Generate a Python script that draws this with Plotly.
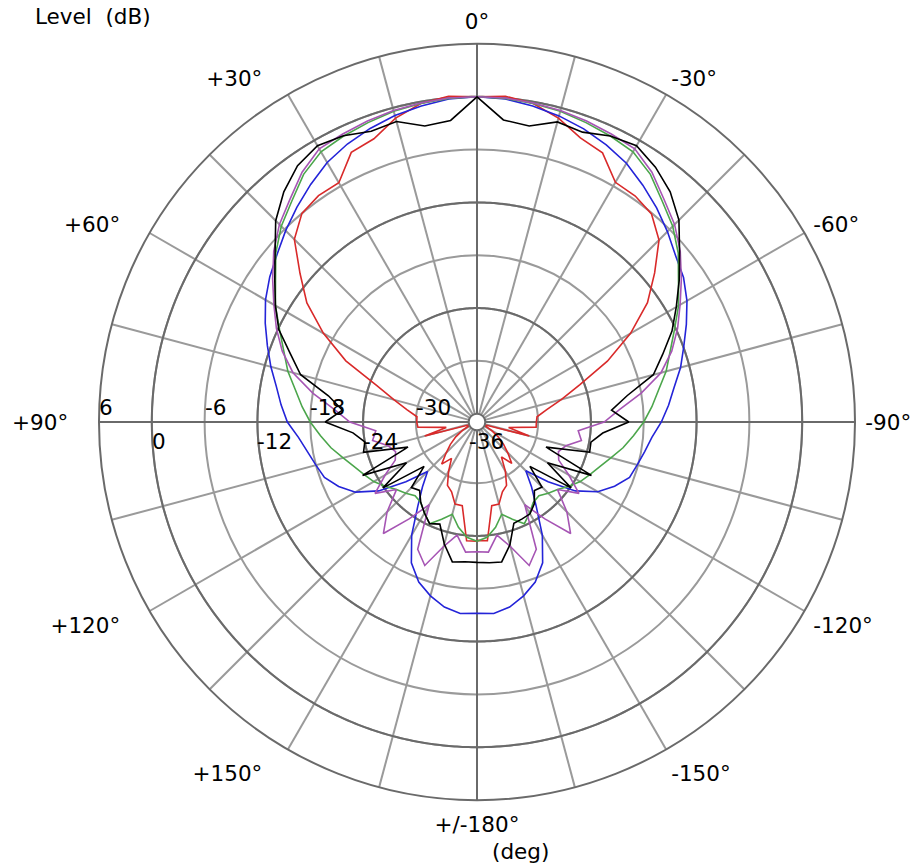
import numpy as np
import plotly.graph_objects as go

# angle magnitudes 0..180 deg in 5 deg steps
ANG = list(range(0, 185, 5))

# right half (negative angles, -0 .. -180)
black_R = [0, -2.5, -2.8, -1.65, -1.9, -1.1, -0.7, -1.6, -2.8, -4.5, -6.9, -8.9, -10.8, -12.5, -14.5, -16.2,
           -19.6, -21.6, -19.7, -22.6, -23.8, -23.7, -28.6, -22.6, -27.7, -23.9, -29.1, -26.5, -26.8, -25.6,
           -24.9, -24.8, -24.7, -22.5, -20.8, -20.9, -21.0]
black_L = [0, -2.55, -2.8, -1.6, -1.8, -1.05, -0.7, -1.4, -2.8, -4.6, -7.0, -8.9, -10.5, -12.1, -14.4, -16.2,
           -19.8, -21.6, -19.7, -22.8, -24.0, -23.6, -28.6, -22.6, -27.7, -23.9, -29.1, -26.4, -26.8, -25.8,
           -25.0, -24.2, -24.6, -22.6, -20.8, -21.0, -21.0]

blue_R = [0, -0.1, -0.5, -0.94, -1.5, -2.2, -3.0, -4.1, -5.2, -6.35, -7.5, -8.3, -9.4, -10.7, -11.95, -13.0,
          -14.2, -15.1, -16.0, -17.0, -17.6, -18.1, -18.5, -19.7, -21.1, -23.3, -26.4, -29.1, -27.3, -25.2,
          -22.1, -19.3, -17.6, -16.5, -15.6, -15.1, -15.2]
blue_L = [0, -0.1, -0.5, -0.9, -1.45, -2.1, -2.9, -4.0, -5.1, -6.2, -7.3, -8.2, -9.2, -10.4, -11.6, -12.7,
          -13.8, -14.6, -15.4, -16.6, -17.4, -18.0, -18.5, -19.6, -21.0, -23.3, -26.4, -29.0, -27.3, -25.2,
          -22.1, -19.3, -17.6, -16.5, -15.6, -15.1, -15.2]

green_R = [0, -0.05, -0.2, -0.4, -0.75, -1.1, -1.5, -2.6, -4.2, -5.5, -7.1, -9.0, -10.5, -12.2, -13.6, -14.7,
           -16.0, -17.0, -18.0, -19.1, -20.1, -21.2, -22.1, -22.8, -23.4, -24.2, -25.0, -25.5, -26.0, -25.8,
           -25.0, -24.2, -25.2, -26.1, -24.8, -23.8, -23.4]
green_L = [0, -0.05, -0.2, -0.4, -0.75, -1.1, -1.5, -2.6, -4.2, -5.5, -7.1, -9.0, -10.5, -12.2, -13.6, -14.7,
           -16.0, -17.0, -18.0, -19.1, -20.1, -21.2, -22.1, -22.8, -23.4, -24.2, -25.0, -25.5, -26.0, -25.8,
           -25.0, -24.2, -25.2, -26.1, -24.8, -23.8, -23.4]

purple_R = [0, 0, -0.15, -0.3, -0.55, -0.85, -1.1, -2.3, -3.9, -5.2, -6.8, -8.6, -10.3, -11.8, -13.4, -15.3,
            -18.0, -20.7, -22.5, -25.4, -24.9, -26.5, -27.1, -26.7, -24.9, -22.8, -25.0, -22.5, -20.4, -23.5,
            -26.1, -21.0, -19.6, -22.3, -23.9, -22.1, -22.2]
purple_L = [0, 0, -0.15, -0.3, -0.55, -0.85, -1.1, -2.3, -3.9, -5.2, -6.8, -8.6, -10.3, -11.8, -13.4, -15.3,
            -18.0, -20.7, -22.5, -25.4, -24.9, -26.5, -27.1, -26.7, -24.9, -22.8, -25.0, -22.5, -20.4, -23.5,
            -26.1, -21.0, -19.6, -22.3, -23.9, -22.1, -22.2]

red_R = [0, 0.2, -0.2, -1.2, -2.6, -3.2, -5.5, -5.6, -6.1, -7.7, -10.6, -13.3, -16.8, -20.6, -24.5, -27.0,
         -28.9, -30.1, -30.2, -30.2, -33.3, -30.8, -36.0, -36.0, -35.0, -34.0, -33.0, -32.0, -30.8, -32.1,
         -30.5, -29.0, -28.5, -27.3, -27.3, -23.4, -23.5]
red_L = [0, 0.2, -0.2, -1.2, -2.7, -3.15, -5.55, -5.55, -6.0, -7.6, -10.7, -13.35, -16.8, -20.5, -24.8, -27.2,
         -28.85, -30.1, -30.1, -30.2, -33.4, -30.8, -36.0, -36.0, -35.0, -34.0, -33.0, -32.0, -30.7, -31.9,
         -30.5, -29.0, -28.5, -27.3, -27.3, -23.4, -23.4]

SERIES = [
    ("red", red_R, red_L, "#d92a2a"),
    ("blue", blue_R, blue_L, "#2424d8"),
    ("green", green_R, green_L, "#4ca64c"),
    ("purple", purple_R, purple_L, "#a655b4"),
    ("black", black_R, black_L, "#000000"),
]

RADIAL_TICKS = [6, 0, -6, -12, -18, -24, -30, -36]
RADIAL_TEXT = ["6", "0", "-6", "-12", "-18", "-24", "-30", "-36"]
DARK_RINGS = [0, -12, -24]
ANG_TICKVALS = list(range(0, 360, 15))
PAD = "\u00a0\u00a0\u00a0"
ANG_LABELS = {0: "0°", 30: "+30°" + PAD, 60: "+60°" + PAD, 90: "+90°" + PAD, 120: "+120°" + PAD,
              150: "+150°" + PAD, 180: "+/-180°", 210: "-150°", 240: "-120°", 270: "-90°",
              300: "-60°", 330: "-30°"}

R_MIN, R_MAX = -36, 6
HOLE = 0.022
FONT = "DejaVu Sans"
FS = 21.5

fig = go.Figure()

# darker rings and main axes
ring_theta = np.linspace(0, 360, 721)
for rv in DARK_RINGS:
    fig.add_trace(go.Scatterpolar(r=[rv] * len(ring_theta), theta=ring_theta, mode="lines",
                                  line=dict(color="#6a6a6a", width=2), hoverinfo="skip"))
for a in [0, 90, 180, 270]:
    fig.add_trace(go.Scatterpolar(r=[R_MIN, R_MAX], theta=[a, a], mode="lines",
                                  line=dict(color="#6a6a6a", width=2), hoverinfo="skip"))

# data
for name, rr, ll, col in SERIES:
    theta = [-a for a in ANG[::-1]] + ANG[1:]
    r = rr[::-1] + ll[1:]
    fig.add_trace(go.Scatterpolar(r=r, theta=theta, mode="lines", name=name,
                                  line=dict(color=col, width=1.6)))

# radial tick labels along the +90 deg spoke (left), alternating above / below
annotations = []
for i, (v, txt) in enumerate(zip(RADIAL_TICKS, RADIAL_TEXT)):
    frac = HOLE + (1 - HOLE) * (v - R_MIN) / (R_MAX - R_MIN)
    above = i % 2 == 0
    annotations.append(dict(
        text=txt, xref="paper", yref="paper", x=0.5 - 0.5 * frac, y=0.5,
        xanchor="left", yanchor="bottom" if above else "top",
        yshift=0 if above else -5, xshift=-2, showarrow=False,
        font=dict(family=FONT, size=FS, color="black")))

annotations += [
    dict(text="Level  (dB)", xref="paper", yref="paper", x=-0.087, y=1.036,
         xanchor="left", yanchor="middle", showarrow=False,
         font=dict(family=FONT, size=FS, color="black")),
    dict(text="(deg)", xref="paper", yref="paper", x=0.557, y=-0.068,
         xanchor="center", yanchor="middle", showarrow=False,
         font=dict(family=FONT, size=FS, color="black")),
]

fig.update_layout(
    width=919, height=866,
    margin=dict(l=91, r=72, t=36, b=74),
    paper_bgcolor="white", plot_bgcolor="white",
    showlegend=False,
    font=dict(family=FONT, size=FS, color="black"),
    polar=dict(
        bgcolor="white",
        hole=HOLE,
        radialaxis=dict(range=[R_MIN, R_MAX], tickvals=RADIAL_TICKS, showticklabels=False,
                        ticks="", showline=False, gridcolor="#9a9a9a", gridwidth=1.5),
        angularaxis=dict(rotation=90, direction="counterclockwise", tickmode="array",
                         tickvals=ANG_TICKVALS,
                         ticktext=[ANG_LABELS.get(v, "") for v in ANG_TICKVALS],
                         ticks="outside", ticklen=5, tickcolor="rgba(0,0,0,0)",
                         showline=True, linecolor="#6a6a6a", linewidth=2,
                         gridcolor="#9a9a9a", gridwidth=1.5,
                         tickfont=dict(family=FONT, size=FS, color="black")),
    ),
    annotations=annotations,
)

fig.write_html("out.html")
